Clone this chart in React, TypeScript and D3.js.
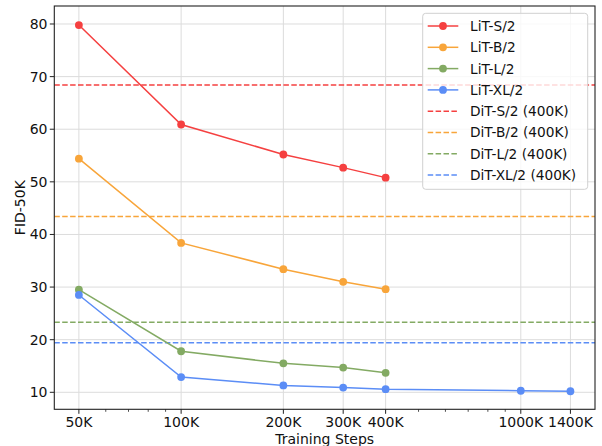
import React from 'react';
import * as d3 from 'd3';

// training steps (in K)
const steps = [50, 100, 200, 300, 400, 1000, 1400];
const tickLabels = ['50K', '100K', '200K', '300K', '400K', '1000K', '1400K'];
const minorSteps = [60, 70, 80, 90, 500, 600, 700, 800, 900];
const yTicks = [10, 20, 30, 40, 50, 60, 70, 80];

const litS = [79.8, 60.9, 55.2, 52.7, 50.8];
const litB = [54.4, 38.4, 33.4, 31.0, 29.6];
const litL = [29.5, 17.8, 15.5, 14.7, 13.7];
const litXL = [28.5, 12.9, 11.3, 10.9, 10.6, 10.3, 10.2];

const ditS = 68.4;
const ditB = 43.4;
const ditL = 23.3;
const ditXL = 19.4;

const colors = ['#f54040', '#f8a53a', '#83aa63', '#5b8df6'];

const series = [
  {name: 'LiT-S/2', values: litS},
  {name: 'LiT-B/2', values: litB},
  {name: 'LiT-L/2', values: litL},
  {name: 'LiT-XL/2', values: litXL},
];

const baselines = [
  {name: 'DiT-S/2 (400K)', value: ditS},
  {name: 'DiT-B/2 (400K)', value: ditB},
  {name: 'DiT-L/2 (400K)', value: ditL},
  {name: 'DiT-XL/2 (400K)', value: ditXL},
];

const W = 602;
const H = 446;
const left = 54.3, right = 595, top = 6, bottom = 409.3;
const font = 'DejaVu Sans, sans-serif';

export default function App()
{
  const pad = Math.log(1400 / 50) * 0.05;
  const x = d3.scaleLog()
    .domain([50 * Math.exp(-pad), 1400 * Math.exp(pad)])
    .range([left, right]);
  const y = d3.scaleLinear()
    .domain([6.77, 83.42])
    .range([bottom, top]);

  const line = d3.line<[number, number]>()
    .x(d => x(d[0]))
    .y(d => y(d[1]));

  const legendItems = [
    ...series.map((s, i) => ({name: s.name, color: colors[i], dashed: false})),
    ...baselines.map((b, i) => ({name: b.name, color: colors[i], dashed: true})),
  ];

  return (
    <svg width={W} height={H} style={{position: 'absolute', left: 0, top: 0}} fontFamily={font}>
      <rect width={W} height={H} fill="#fff"/>

      {/* grid */}
      <g stroke="#dcdcdc" strokeWidth={1}>
        {steps.map(s => <line key={'gx' + s} x1={x(s)} x2={x(s)} y1={top} y2={bottom}/>)}
        {yTicks.map(t => <line key={'gy' + t} x1={left} x2={right} y1={y(t)} y2={y(t)}/>)}
      </g>

      {/* baselines */}
      {baselines.map((b, i) =>
        <line key={b.name} x1={left} x2={right} y1={y(b.value)} y2={y(b.value)}
              stroke={colors[i]} strokeWidth={1.5} strokeDasharray="5.5,2.4"/>
      )}

      {/* series */}
      {series.map((s, i) =>
      {
        const pts: [number, number][] = s.values.map((v, j) => [steps[j], v]);
        return (
          <g key={s.name}>
            <path d={line(pts) || ''} fill="none" stroke={colors[i]} strokeWidth={1.5}/>
            {pts.map((p, j) => <circle key={j} cx={x(p[0])} cy={y(p[1])} r={3.9} fill={colors[i]}/>)}
          </g>
        );
      })}

      {/* spines */}
      <rect x={left} y={top} width={right - left} height={bottom - top} fill="none" stroke="#222" strokeWidth={1.1}/>

      {/* x axis */}
      <g>
        {steps.map((s, i) =>
          <g key={s}>
            <line x1={x(s)} x2={x(s)} y1={bottom} y2={bottom + 4.5} stroke="#222" strokeWidth={1}/>
            <text x={x(s)} y={426.5} textAnchor="middle" fontSize={14} fill="#111">{tickLabels[i]}</text>
          </g>
        )}
        {minorSteps.map(s =>
          <line key={'m' + s} x1={x(s)} x2={x(s)} y1={bottom} y2={bottom + 2.5} stroke="#222" strokeWidth={0.8}/>
        )}
        <text x={(left + right) / 2} y={443.5} textAnchor="middle" fontSize={14} fill="#111">Training Steps</text>
      </g>

      {/* y axis */}
      <g>
        {yTicks.map(t =>
          <g key={t}>
            <line x1={left - 4.5} x2={left} y1={y(t)} y2={y(t)} stroke="#222" strokeWidth={1}/>
            <text x={47.5} y={y(t)} dy="0.36em" textAnchor="end" fontSize={14} fill="#111">{t}</text>
          </g>
        )}
        <text transform={`translate(25,${(top + bottom) / 2}) rotate(-90)`} textAnchor="middle"
              fontSize={14} fill="#111">FID-50K</text>
      </g>

      {/* legend */}
      <g>
        <rect x={422.7} y={13.3} width={165} height={176} rx={3} fill="#fff" fillOpacity={0.8}
              stroke="#d0d0d0" strokeWidth={1}/>
        {legendItems.map((it, i) =>
        {
          const ly = 26 + i * 21.3;
          return (
            <g key={it.name}>
              <line x1={427.7} x2={458.3} y1={ly} y2={ly} stroke={it.color} strokeWidth={1.5}
                    strokeDasharray={it.dashed ? '5.5,2.4' : undefined}/>
              {!it.dashed && <circle cx={443} cy={ly} r={3.9} fill={it.color}/>}
              <text x={470} y={ly} dy="0.36em" fontSize={13.7} fill="#111">{it.name}</text>
            </g>
          );
        })}
      </g>
    </svg>
  );
}
